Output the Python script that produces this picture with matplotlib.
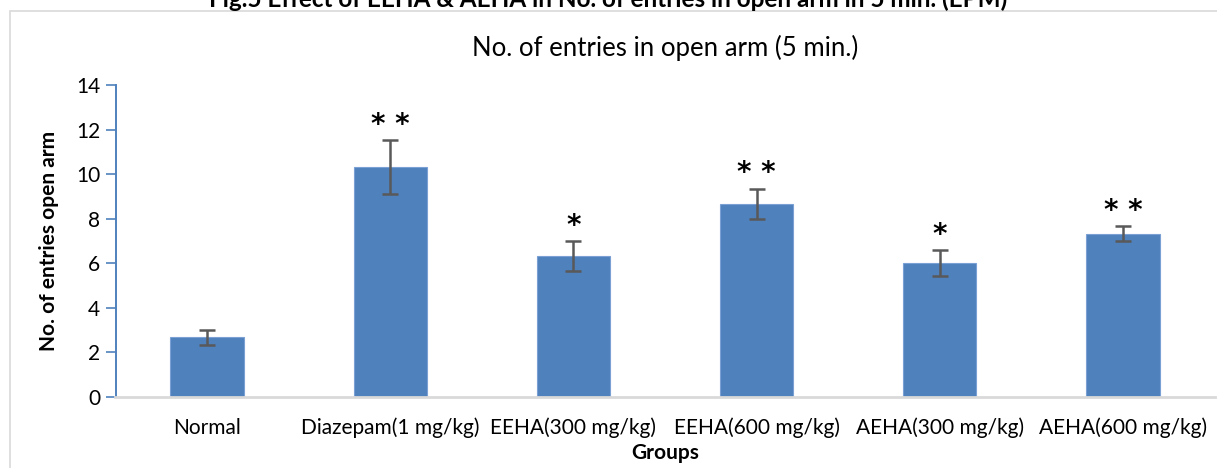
import matplotlib
matplotlib.use("Agg")
import matplotlib.pyplot as plt
from matplotlib.patches import Rectangle

categories = ["Normal", "Diazepam(1 mg/kg)", "EEHA(300 mg/kg)", "EEHA(600 mg/kg)",
              "AEHA(300 mg/kg)", "AEHA(600 mg/kg)"]
means = [2.67, 10.33, 6.33, 8.67, 6.0, 7.33]
errors = [0.33, 1.2, 0.67, 0.67, 0.58, 0.33]
significance = ["", "* *", "*", "* *", "*", "* *"]
yticks = [0, 2, 4, 6, 8, 10, 12, 14]

plt.rcParams['font.family'] = ['Lato', 'DejaVu Sans']

W, H = 1217, 468
fig = plt.figure(figsize=(W / 100, H / 100), dpi=100)

# outer chart border
fig.patches.append(Rectangle((10 / W, -0.1), 1.2, 1 - 11 / H + 0.1, transform=fig.transFigure,
                             fill=False, edgecolor="#D9D9D9", linewidth=1.2))

fig.text(0.5, 1 - 7 / H, "Fig.5 Effect of EEHA & AEHA in No. of entries in open arm in 5 min. (EPM)",
         ha="center", va="baseline", fontsize=17.5, fontweight="bold")

ax = fig.add_axes([115.5 / W, 1 - 397 / H, (1214.5 - 115.5) / W, (397 - 85) / H])
x = list(range(len(categories)))
ax.bar(x, means, width=0.4, color="#4F81BD", edgecolor="#7BA0D4", linewidth=0.8, zorder=2)
ax.errorbar(x, means, yerr=errors, fmt="none", ecolor="#595959", elinewidth=1.8,
            capsize=6, capthick=1.8, zorder=3)

for xi, m, e, s in zip(x, means, errors, significance):
    if s:
        ax.annotate(s, (xi, m + e), xytext=(0, 1), textcoords="offset points",
                    ha="center", va="bottom", fontsize=20, fontweight="bold",
                    fontfamily="DejaVu Sans")

ax.set_xlim(-0.5, len(categories) - 0.5)
ax.set_ylim(0, 14)
ax.set_yticks(yticks)
ax.set_xticks(x)
ax.set_xticklabels(categories, fontsize=15)
ax.tick_params(axis="x", length=0, pad=15)
ax.tick_params(axis="y", direction="out", length=7, color="#4F81BD", width=1.2,
               labelsize=15, pad=4)

for side in ["top", "right"]:
    ax.spines[side].set_visible(False)
ax.spines["left"].set_color("#4F81BD")
ax.spines["left"].set_linewidth(1.4)
ax.spines["bottom"].set_color("#D9D9D9")
ax.spines["bottom"].set_linewidth(2)

ax.set_title("No. of entries in open arm (5 min.)", fontsize=18.5, pad=21)
ax.set_xlabel("Groups", fontsize=15, fontweight="bold", labelpad=3)
ax.set_ylabel("No. of entries open arm", fontsize=15, fontweight="bold", labelpad=12)

fig.savefig("out.png", dpi=100)
